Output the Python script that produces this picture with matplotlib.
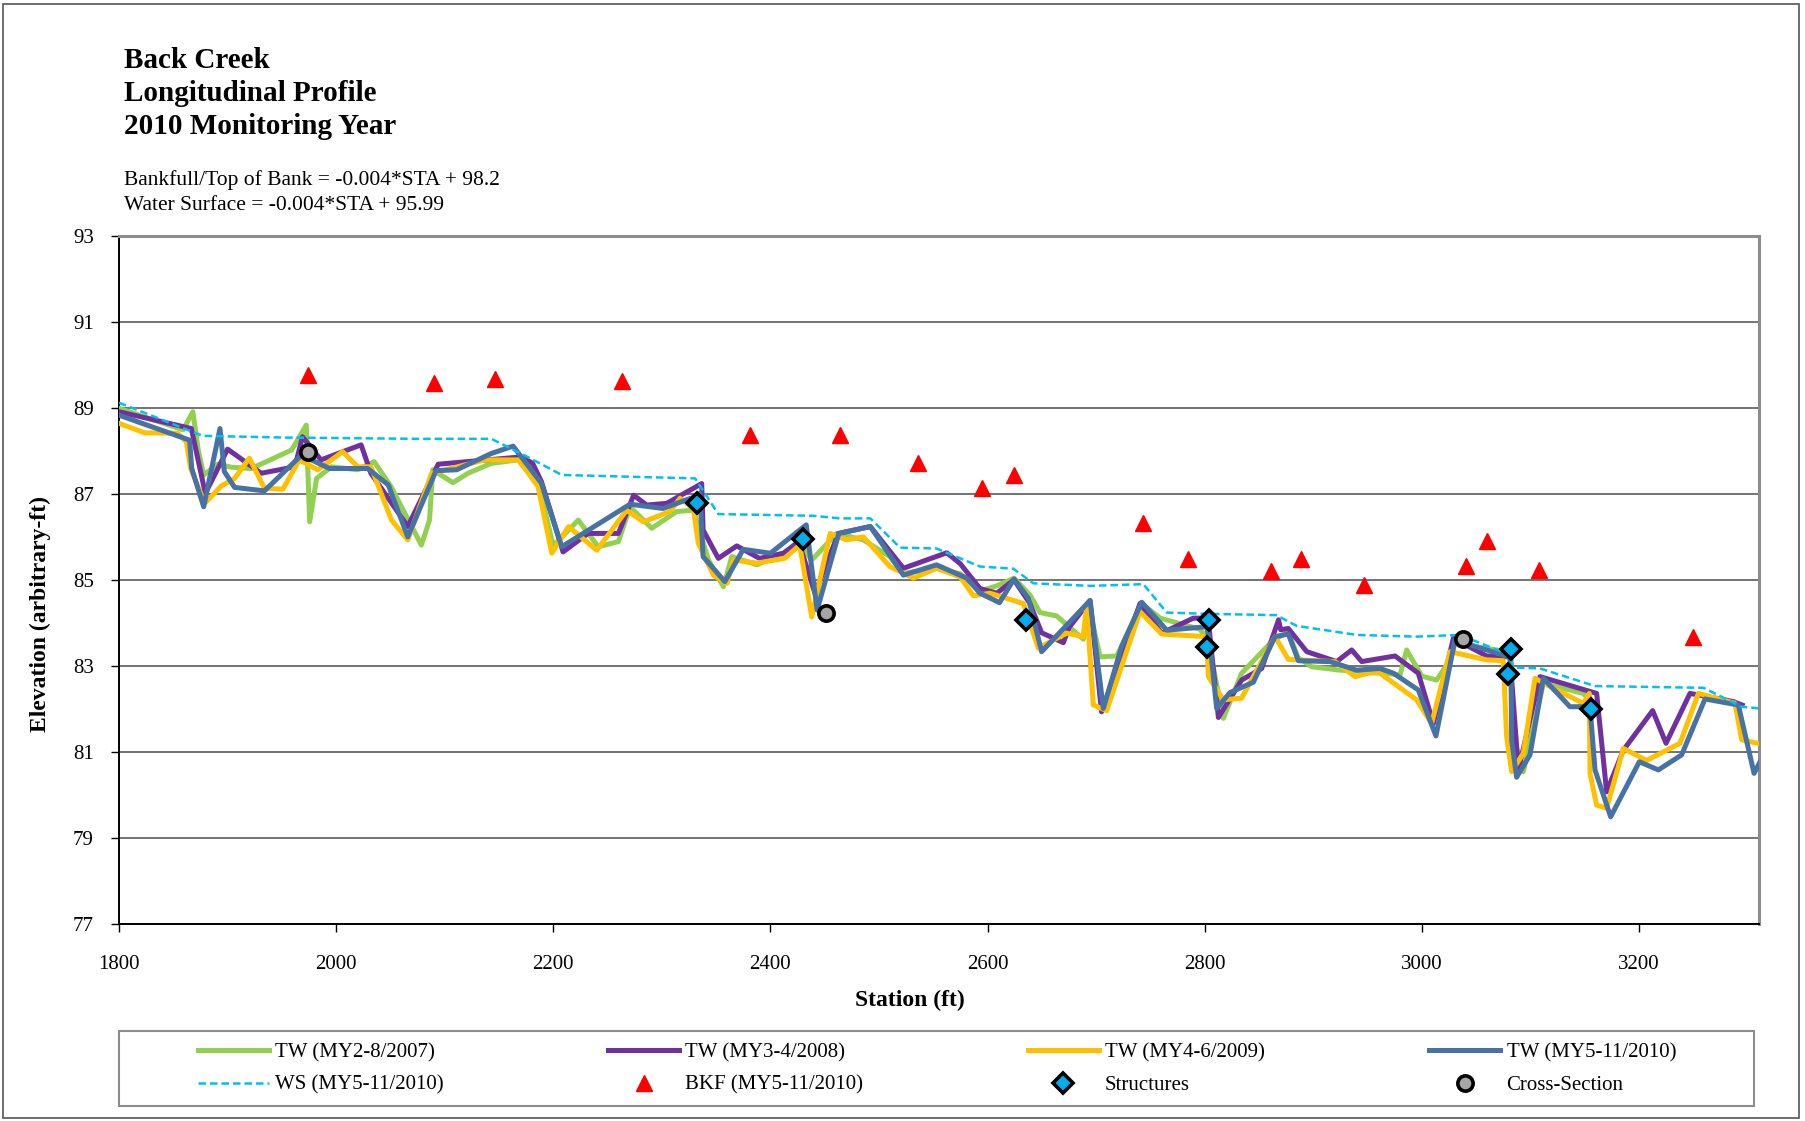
import matplotlib
matplotlib.use('Agg')  # no display
import matplotlib.pyplot as plt
from matplotlib.patches import Rectangle

plt.rcParams['font.family'] = ['Liberation Serif', 'DejaVu Serif']

# thalweg surveys (station ft, elevation ft)
tw07_sta = [1800, 1859, 1868, 1873, 1878, 1891, 1903.5, 1922, 1959, 1972.5, 1975.6, 1982, 1995.6,
            2020, 2035, 2050.5, 2078.5, 2086, 2089, 2107.6, 2121.5, 2143, 2167.5, 2186, 2192, 2200,
            2223, 2241.5, 2260, 2270.7, 2290.7, 2313.7, 2329, 2333.6, 2343, 2356.7, 2364.4, 2387.4,
            2412, 2427, 2438, 2461, 2485.6, 2510, 2522.5, 2553, 2575, 2593, 2608.4, 2624.4, 2639,
            2648.3, 2663.7, 2688.2, 2693, 2703.6, 2719, 2742, 2759, 2795.7, 2803, 2817.2, 2834,
            2863.2, 2877, 2886, 2898.5, 2924.6, 2952, 2979.9, 2986, 3000, 3013.6, 3026, 3030.5,
            3068.9, 3081, 3085, 3093.5, 3111.9, 3148.7, 3155]
tw07_elev = [89.0, 88.50, 88.92, 88.03, 87.45, 87.70, 87.63, 87.60, 88.03, 88.61, 86.36, 87.37, 87.64,
             87.57, 87.76, 87.18, 85.82, 86.40, 87.57, 87.27, 87.49, 87.72, 87.80, 87.26, 86.64, 85.80,
             86.40, 85.78, 85.90, 86.71, 86.21, 86.60, 86.63, 86.25, 85.47, 84.85, 85.55, 85.36,
             85.63, 85.86, 85.47, 86.09, 85.94, 85.55, 85.16, 85.28, 85.15, 84.75, 84.87, 85.05, 84.66,
             84.25, 84.17, 83.63, 84.45, 83.22, 83.24, 84.46, 84.12, 83.86, 83.60, 81.79, 82.84,
             83.61, 83.80, 83.20, 82.99, 82.91, 82.87, 82.80, 83.38, 82.77, 82.68, 83.15, 83.53,
             83.38, 83.30, 81.30, 80.55, 82.60, 82.37, 82.20]

tw08_sta = [1800, 1866.6, 1879.5, 1900, 1931, 1962, 1969, 1986, 2023, 2032, 2066, 2094, 2170.6, 2181,
            2189, 2209, 2232, 2260, 2274, 2286, 2304.5, 2336.7, 2338, 2352, 2369, 2390, 2412, 2426,
            2441, 2462.6, 2492, 2522.5, 2562.4, 2574.7, 2593, 2608.4, 2624.4, 2639, 2649.8, 2669.8,
            2675, 2694.4, 2705, 2740.4, 2760.4, 2789.5, 2801.8, 2804, 2812.6, 2834, 2852.5, 2868,
            2870, 2877, 2894, 2921.6, 2935.4, 2944.6, 2975.3, 2996.7, 3010.6, 3029, 3059.7, 3081.2,
            3088.9, 3108.8, 3161, 3170.2, 3185.6, 3212.6, 3224.9, 3247, 3286.9, 3295]
tw08_elev = [88.92, 88.53, 87.02, 88.05, 87.49, 87.64, 88.34, 87.80, 88.15, 87.49, 86.25, 87.70, 87.87, 87.72,
             87.30, 85.66, 86.09, 86.09, 86.98, 86.75, 86.79, 87.25, 86.17, 85.51, 85.80, 85.51, 85.63, 85.90,
             84.70, 86.09, 86.25, 85.28, 85.64, 85.39, 84.81, 84.70, 85.01, 84.46, 83.78, 83.55,
             83.90, 84.53, 81.94, 84.46, 83.77, 84.12, 84.12, 83.90, 81.81, 82.68, 82.95, 84.08,
             83.85, 83.88, 83.34, 83.11, 83.38, 83.11, 83.24, 82.84, 81.67, 83.65, 83.24, 83.22,
             80.59, 82.76, 82.37, 80.08, 81.05, 81.97, 81.21, 82.37, 82.18, 82.10]

tw09_sta = [1800, 1823.6, 1854, 1862, 1866, 1879, 1894, 1906.5, 1920, 1934, 1951, 1966, 1983, 2006,
            2020, 2032, 2051, 2066, 2088, 2137, 2168, 2186, 2198.6, 2214, 2240, 2267.6, 2283, 2307.5,
            2316.8, 2329, 2333.6, 2347.5, 2360, 2366, 2387.4, 2413, 2427, 2438, 2455, 2470, 2485.6,
            2510, 2531.7, 2553, 2574.7, 2587, 2602.3, 2633, 2646.8, 2657.5, 2672.9, 2688, 2691.3,
            2697.4, 2709.7, 2740.4, 2760.4, 2801.8, 2803.4, 2817.2, 2834, 2864.8, 2877, 2920, 2938.5,
            2952.3, 2961.4, 2995.2, 3009, 3025.9, 3059.7, 3075, 3078.1, 3082.7, 3093.5, 3104.2, 3124.2,
            3148.7, 3154.3, 3154.9, 3161, 3170.2, 3185.6, 3207, 3237.8, 3254.7, 3288.4, 3294.6, 3311]
tw09_elev = [88.65, 88.43, 88.42, 88.22, 87.60, 86.79, 87.19, 87.37, 87.84, 87.14, 87.12, 87.80, 87.57, 87.99,
             87.64, 87.64, 86.40, 85.94, 87.49, 87.80, 87.80, 87.18, 85.63, 86.25, 85.70, 86.63, 86.36, 86.60,
             86.91, 86.67, 85.86, 85.12, 84.93, 85.47, 85.40, 85.51, 85.82, 84.15, 86.09, 85.94, 86.01,
             85.32, 85.05, 85.28, 85.08, 84.64, 84.70, 84.46, 83.42, 83.57, 83.77, 83.69, 84.39,
             82.10, 81.97, 84.27, 83.75, 83.69, 82.76, 82.22, 82.26, 83.69, 83.16, 83.11, 82.76,
             82.85, 82.84, 82.22, 81.67, 83.34, 83.15, 83.13, 81.36, 80.55, 80.98, 82.72, 82.45,
             82.14, 82.37, 80.51, 79.77, 79.70, 81.09, 80.81, 81.21, 82.37, 82.14, 81.29, 81.20]

tw10_sta = [1800, 1865, 1867, 1878, 1893, 1897, 1906.5, 1934, 1968, 1994, 2029, 2048, 2066, 2092, 2111,
            2143, 2163, 2189, 2207.8, 2270.7, 2301, 2329, 2335, 2338, 2358, 2375, 2400, 2433, 2443,
            2463, 2492, 2522.5, 2553, 2580.8, 2593, 2611, 2624.4, 2637.6, 2649.8, 2694.4, 2706.6,
            2723.5, 2742, 2765, 2801.8, 2805, 2811, 2823.3, 2844.8, 2864.8, 2877, 2886.3, 2915.4,
            2940, 2961.4, 2973.7, 2996.7, 3013, 3030.5, 3075, 3082, 3082.7, 3087.3, 3099.6, 3111.9,
            3136.4, 3154.9, 3159.5, 3173.9, 3200.3, 3217.8, 3239.3, 3260.8, 3291.5, 3306, 3314]
tw10_elev = [88.84, 88.26, 87.60, 86.71, 88.53, 87.53, 87.16, 87.08, 87.91, 87.60, 87.60, 87.22, 86.01, 87.55, 87.57,
             87.95, 88.12, 87.26, 85.78, 86.77, 86.67, 86.93, 87.02, 85.55, 84.97, 85.72, 85.63, 86.29, 84.31,
             86.09, 86.25, 85.12, 85.36, 85.05, 84.70, 84.48, 85.03, 84.58, 83.34, 84.53, 82.02,
             83.46, 84.49, 83.84, 83.92, 83.50, 82.02, 82.39, 82.63, 83.69, 83.75, 83.13, 83.11,
             82.91, 82.95, 82.84, 82.45, 81.38, 83.61, 83.26, 83.20, 81.29, 80.42, 80.94, 82.72,
             82.06, 82.06, 80.59, 79.50, 80.78, 80.59, 80.94, 82.24, 82.10, 80.51, 80.90]

ws_sta = [1800, 1877, 1952, 2075, 2143, 2178.6, 2207.8, 2330.6, 2352, 2439.6, 2464, 2492, 2519.4, 2553,
          2593, 2623.7, 2642.2, 2694.4, 2743.5, 2765, 2801.8, 2866, 2884.7, 2940, 2995.2, 3035,
          3081.2, 3084.2, 3108.8, 3159.5, 3259.3, 3294.6, 3311]
ws_elev = [89.13, 88.36, 88.32, 88.29, 88.29, 87.84, 87.45, 87.37, 86.54, 86.50, 86.44, 86.44, 85.76, 85.74,
           85.32, 85.27, 84.93, 84.87, 84.91, 84.25, 84.22, 84.19, 83.94, 83.73, 83.69, 83.73,
           83.26, 82.97, 82.95, 82.54, 82.50, 82.06, 82.02]

bkf_sta = [1974, 2089.8, 2146.6, 2263.3, 2381, 2464, 2536, 2595.2, 2624.4, 2742.9, 2785, 2861.4,
           2889, 2947, 3040.6, 3059.7, 3108, 3249.4]
bkf_elev = [89.78, 89.58, 89.68, 89.64, 88.38, 88.38, 87.72, 87.14, 87.45, 86.34, 85.49, 85.22,
            85.49, 84.89, 85.33, 85.92, 85.24, 83.69]

struct_sta = [2332, 2430, 2635.4, 2804.3, 2802.4, 3081.8, 3079.6, 3156]
struct_elev = [86.80, 85.96, 84.08, 84.08, 83.44, 83.40, 82.81, 82.01]

xs_sta = [1974, 2451, 3038.2]
xs_elev = [87.99, 84.25, 83.63]

fig = plt.figure(figsize=(18.06, 11.21), dpi=100)
ax = fig.add_axes([119 / 1806, 1 - 924.3 / 1121, (1759.5 - 119) / 1806, (924.3 - 236.3) / 1121])

ax.plot(tw07_sta, tw07_elev, color='#92D050', lw=3.6, label='TW (MY2-8/2007)', zorder=3)
ax.plot(tw08_sta, tw08_elev, color='#7030A0', lw=3.6, label='TW (MY3-4/2008)', zorder=3)
ax.plot(tw09_sta, tw09_elev, color='#FFC000', lw=3.6, label='TW (MY4-6/2009)', zorder=3)
ax.plot(tw10_sta, tw10_elev, color='#4672A6', lw=3.6, label='TW (MY5-11/2010)', zorder=3)
ax.plot(ws_sta, ws_elev, color='#00C0F0', lw=1.8, ls=(0, (3, 1.6)), label='WS (MY5-11/2010)', zorder=4)
ax.plot(bkf_sta, bkf_elev, ls='none', marker='^', ms=11, color='#FF0000', mec='#FF0000',
        label='BKF (MY5-11/2010)', zorder=5)
ax.plot(struct_sta, struct_elev, ls='none', marker='D', ms=10, mfc='#00AEEF', mec='black', mew=2.6,
        label='Structures', zorder=6)
ax.plot(xs_sta, xs_elev, ls='none', marker='o', ms=11, mfc='#A6A6A6', mec='black', mew=2.6,
        label='Cross-Section', zorder=6)

ax.set_xlim(1800, 3311)
ax.set_ylim(77, 93)
ax.set_xticks(range(1800, 3201, 200))
ax.set_yticks(range(77, 94, 2))
ax.grid(axis='y', color='#4d4d4d', lw=1.1)
ax.set_axisbelow(True)
ax.tick_params(axis='both', direction='out', length=6, width=1, labelsize=15, colors='black')
ax.tick_params(axis='y', pad=12)
ax.tick_params(axis='x', pad=16)
for s in ['left', 'bottom']:
    ax.spines[s].set_color('black')
    ax.spines[s].set_linewidth(1.4)
for s in ['top', 'right']:
    ax.spines[s].set_color('#8c8c8c')
    ax.spines[s].set_linewidth(2.2)

# titles and equations
tx = 124 / 1806
fig.text(tx, 1 - 60 / 1121, 'Back Creek', fontsize=21, fontweight='bold', va='center')
fig.text(tx, 1 - 93.5 / 1121, 'Longitudinal Profile', fontsize=21, fontweight='bold', va='center')
fig.text(tx, 1 - 127 / 1121, '2010 Monitoring Year', fontsize=21, fontweight='bold', va='center')
fig.text(tx, 1 - 180 / 1121, 'Bankfull/Top of Bank = -0.004*STA + 98.2', fontsize=15.5, va='center')
fig.text(tx, 1 - 205.5 / 1121, 'Water Surface = -0.004*STA + 95.99', fontsize=15.5, va='center')

fig.text(40 / 1806, 1 - 614 / 1121, 'Elevation (arbitrary-ft)', fontsize=17, fontweight='bold',
         rotation=90, ha='center', va='center')
fig.text(910 / 1806, 1 - 1000 / 1121, 'Station (ft)', fontsize=17, fontweight='bold', ha='center', va='center')

# legend box and entries (row-major order like the original)
fig.patches.append(Rectangle((119 / 1806, 1 - 1106 / 1121), (1754 - 119) / 1806, 75 / 1121,
                             transform=fig.transFigure, fill=False, ec='#8c8c8c', lw=1.5))
h, l = ax.get_legend_handles_labels()
order = [0, 4, 1, 5, 2, 6, 3, 7]
fig.legend([h[i] for i in order], [l[i] for i in order], ncol=4, frameon=False,
           loc='center', bbox_to_anchor=(937 / 1806, 1 - 1069 / 1121),
           fontsize=15, handlelength=3.4, handletextpad=0.3, columnspacing=7.9,
           labelspacing=0.6, numpoints=1)

# chart border
fig.patches.append(Rectangle((3 / 1806, 3 / 1121), 1796 / 1806, 1114 / 1121,
                             transform=fig.transFigure, fill=False, ec='#555555', lw=1.2))

fig.savefig('out.png', dpi=100)
